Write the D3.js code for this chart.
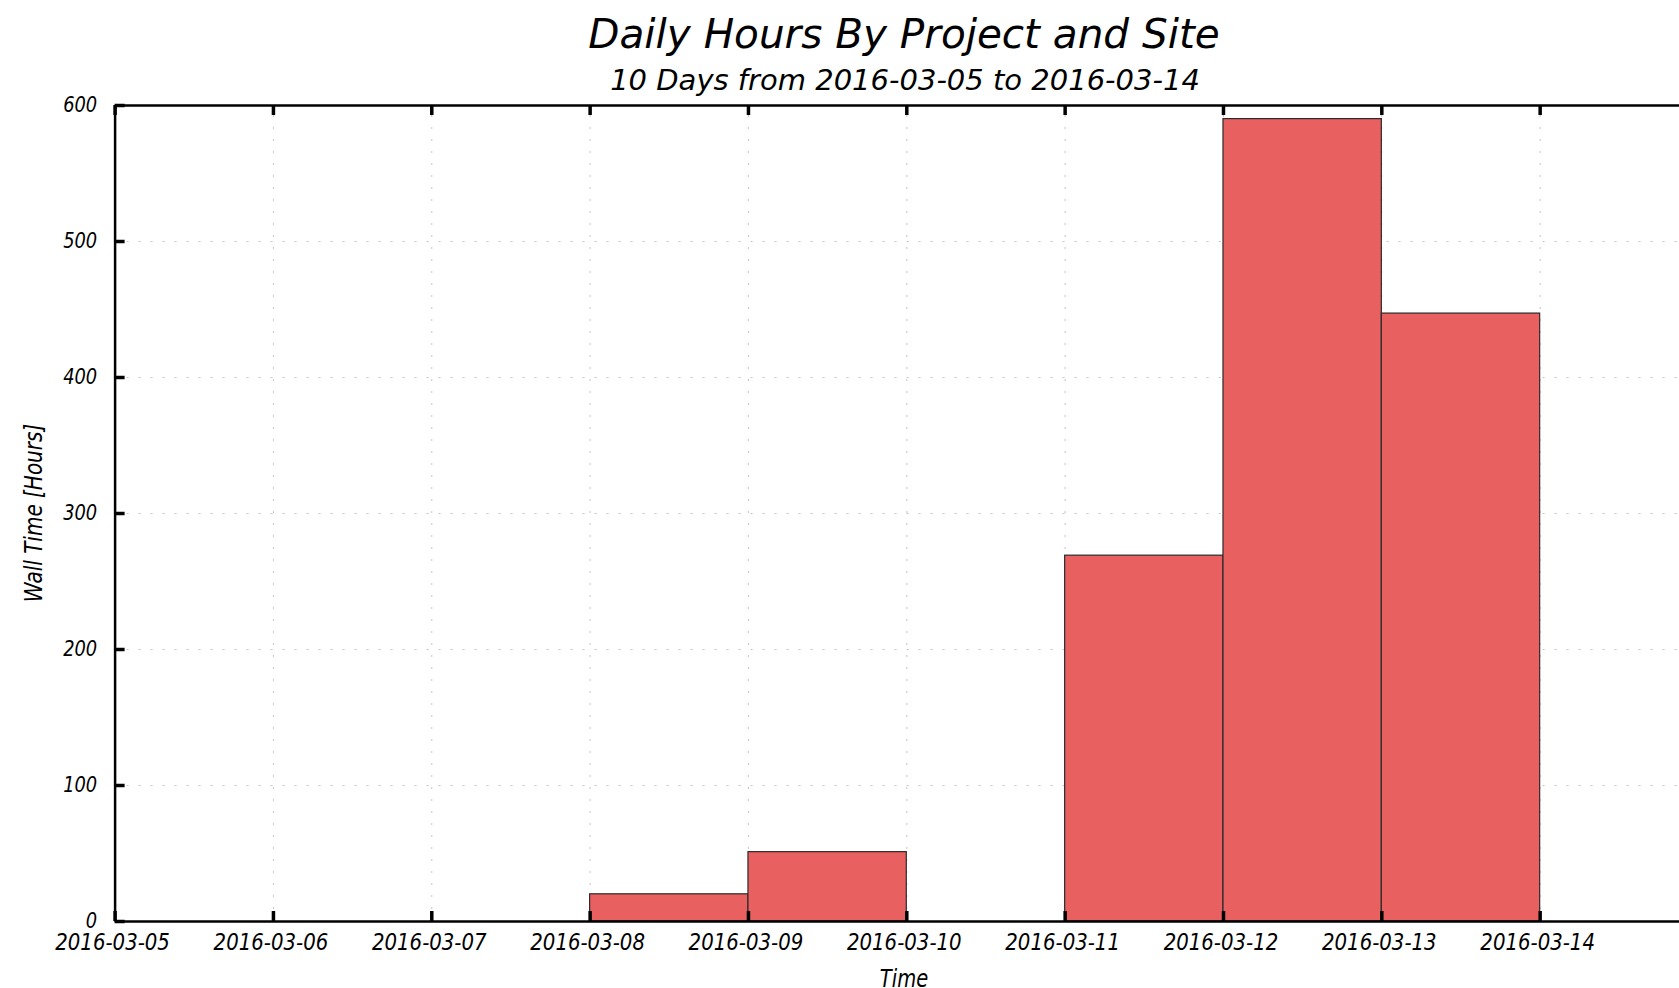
<!DOCTYPE html>
<html>
<head>
<meta charset="utf-8">
<script src="https://d3js.org/d3.v7.min.js"></script>
<style>
  html, body { margin: 0; padding: 0; background: #fff; overflow: hidden; }
  text { font-family: "DejaVu Sans", sans-serif; font-style: italic; fill: #000; }
</style>
</head>
<body>
<div id="chart"></div>
<script>
// data
var days = ["2016-03-05", "2016-03-06", "2016-03-07", "2016-03-08", "2016-03-09",
            "2016-03-10", "2016-03-11", "2016-03-12", "2016-03-13", "2016-03-14"];
var hours = [0, 0, 0, 20, 51, 0, 269, 590, 447, 0];
var yTicks = [0, 100, 200, 300, 400, 500, 600];
var xEnd = "2016-03-15";

var svg_width = 1679;
var svg_height = 988;

// plot box (the right spine falls just past the window edge)
var plotLeft = 114.6, plotRight = 1698, plotTop = 105, plotBottom = 921;

var parse = d3.utcParse("%Y-%m-%d");
var fmt = d3.utcFormat("%Y-%m-%d");
var dates = days.map(parse);

var svg = d3.select("#chart").append("svg")
    .attr("width", svg_width)
    .attr("height", svg_height);

var x = d3.scaleUtc()
    .domain([dates[0], parse(xEnd)])
    .range([plotLeft, plotRight]);

var y = d3.scaleLinear()
    .domain([0, 600])
    .range([plotBottom, plotTop]);

// dotted grid
var grid = svg.append("g").attr("class", "grid");
grid.append("g")
    .attr("transform", "translate(0," + plotBottom + ")")
    .call(d3.axisBottom(x).tickValues(dates).tickSize(-(plotBottom - plotTop)).tickFormat(""));
grid.append("g")
    .attr("transform", "translate(" + plotLeft + ",0)")
    .call(d3.axisLeft(y).tickValues(yTicks).tickSize(-(plotRight - plotLeft)).tickFormat(""));
grid.selectAll(".domain").remove();
grid.selectAll("line")
    .attr("stroke", "#c4c4c4")
    .attr("stroke-width", 1)
    .attr("stroke-dasharray", "2,10");

// bars, one day wide, starting at the day
var bars = days.map(function(d, i) { return { day: parse(d), v: hours[i] }; })
    .filter(function(d) { return d.v > 0; });

svg.append("g").selectAll("rect")
    .data(bars)
    .enter().append("rect")
    .attr("x", function(d) { return x(d.day); })
    .attr("y", function(d) { return y(d.v); })
    .attr("width", function(d) { return x(d3.utcDay.offset(d.day, 1)) - x(d.day); })
    .attr("height", function(d) { return y(0) - y(d.v); })
    .attr("fill", "#e8605f")
    .attr("stroke", "#2b2b2b")
    .attr("stroke-width", 1.2);

// spines and inward ticks
var xAxis = svg.append("g")
    .attr("transform", "translate(0," + plotBottom + ")")
    .call(d3.axisBottom(x).tickValues(dates).tickSizeInner(-10).tickSizeOuter(0)
        .tickPadding(12).tickFormat(fmt));

var xTop = svg.append("g")
    .attr("transform", "translate(0," + plotTop + ")")
    .call(d3.axisTop(x).tickValues(dates).tickSizeInner(-10).tickSizeOuter(0).tickFormat(""));

var yAxis = svg.append("g")
    .attr("transform", "translate(" + plotLeft + ",0)")
    .call(d3.axisLeft(y).tickValues(yTicks).tickSizeInner(-10).tickSizeOuter(0)
        .tickPadding(18).tickFormat(d3.format("d")));

var yRight = svg.append("g")
    .attr("transform", "translate(" + plotRight + ",0)")
    .call(d3.axisRight(y).tickValues(yTicks).tickSizeInner(-10).tickSizeOuter(0).tickFormat(""));

[xAxis, xTop, yAxis, yRight].forEach(function(g) {
    g.select(".domain").attr("stroke", "#000").attr("stroke-width", 2.5);
    g.selectAll(".tick line").attr("stroke", "#000").attr("stroke-width", 3.5);
});

xAxis.selectAll(".tick text")
    .attr("font-size", 23.5)
    .attr("x", -3)
    .attr("transform", "scale(0.84,1)")
    .attr("fill", "#000")
    .style("font-family", "DejaVu Sans")
    .style("font-style", "italic");

yAxis.selectAll(".tick text")
    .attr("font-size", 20.5)
    .attr("x", -20)
    .attr("transform", "scale(0.87,1)")
    .attr("fill", "#000")
    .style("font-family", "DejaVu Sans")
    .style("font-style", "italic");

// titles
svg.append("text")
    .text("Daily Hours By Project and Site")
    .attr("x", 904)
    .attr("y", 48)
    .attr("text-anchor", "middle")
    .style("font-size", "40.5px");

svg.append("text")
    .text("10 Days from " + days[0] + " to " + days[days.length - 1])
    .attr("x", 905)
    .attr("y", 90)
    .attr("text-anchor", "middle")
    .style("font-size", "29px");

// axis labels
svg.append("text")
    .text("Time")
    .attr("text-anchor", "middle")
    .attr("transform", "translate(904,987) scale(0.78,1)")
    .style("font-size", "25px");

svg.append("text")
    .text("Wall Time [Hours]")
    .attr("text-anchor", "middle")
    .attr("transform", "translate(42,513) rotate(-90) scale(0.8,1)")
    .style("font-size", "25px");
</script>
</body>
</html>
